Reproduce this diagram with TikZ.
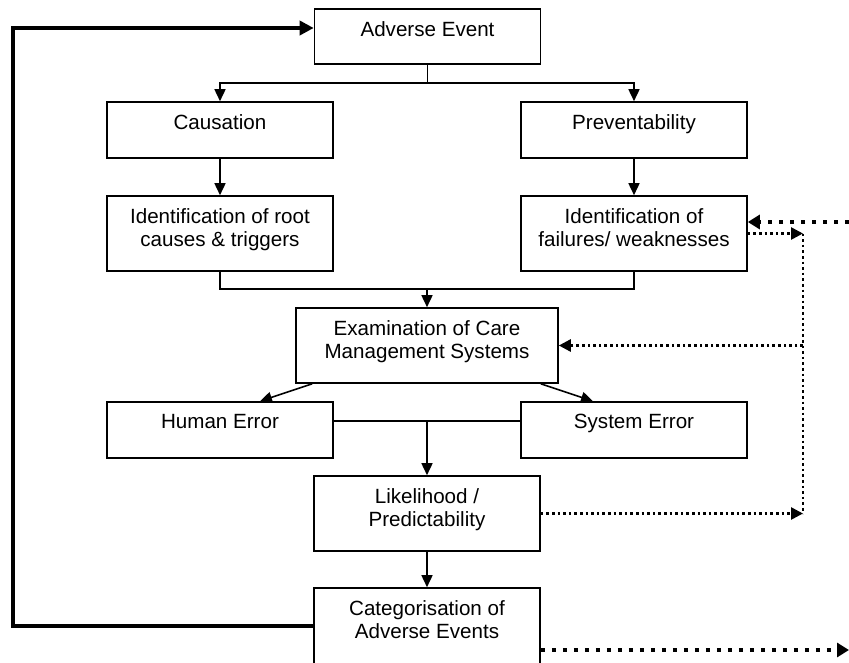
\documentclass[tikz,border=0pt]{standalone}
\usepackage{fontspec}
\setmainfont{Liberation Sans}
\usetikzlibrary{arrows.meta}
\begin{document}
\begin{tikzpicture}[x=1pt,y=-1pt,
  box/.style={draw,line width=1.6pt,inner sep=0pt,minimum width=226pt},
  caption/.style={font=\fontsize{20.6}{23.5}\selectfont,align=center,inner sep=0pt,anchor=north},
  link/.style={line width=1.6pt},
  flow/.style={line width=1.6pt,-{Triangle[length=12pt,width=11pt]}},
  feedback/.style={line width=4.5pt,-{Triangle[length=14pt,width=14pt]}},
  fine/.style={line width=2.6pt,dash pattern=on 2.6pt off 3pt},
  finetip/.style={fine,-{Triangle[length=12pt,width=12pt]}},
  bold/.style={line width=4.5pt,dash pattern=on 4.5pt off 6.5pt,-{Triangle[length=12pt,width=14pt]}},
]
\useasboundingbox (0,0) rectangle (849,662);
\clip (0,0) rectangle (849,662);

% boxes
\node[box,minimum height=55pt] (ae)   at (427.5,36.5) {};
\node[box,minimum height=56pt] (cau)  at (220,130) {};
\node[box,minimum height=56pt] (prev) at (634,130) {};
\node[box,minimum height=75pt] (root) at (220,233.5) {};
\node[box,minimum height=75pt] (fail) at (634,233.5) {};
\node[box,minimum height=75pt,minimum width=262pt] (exam) at (427,345.5) {};
\node[box,minimum height=56pt] (hum)  at (220,430) {};
\node[box,minimum height=56pt] (sys)  at (634,430) {};
\node[box,minimum height=75pt] (lik)  at (427,513.5) {};
\node[box,minimum height=90pt] (cat)  at (427,633) {};

% captions
\node[caption] (ae-t)   at ([yshift=-13pt]ae.north)   {Adverse Event};
\node[caption] (cau-t)  at ([yshift=-13pt]cau.north)  {Causation};
\node[caption] (prev-t) at ([yshift=-13pt]prev.north) {Preventability};
\node[caption] (root-t) at ([yshift=-13pt]root.north) {Identification of root\\causes \& triggers};
\node[caption] (fail-t) at ([yshift=-13pt]fail.north) {Identification of\\failures/ weaknesses};
\node[caption] (exam-t) at ([yshift=-13pt]exam.north) {Examination of Care\\Management Systems};
\node[caption] (hum-t)  at ([yshift=-13pt]hum.north)  {Human Error};
\node[caption] (sys-t)  at ([yshift=-13pt]sys.north)  {System Error};
\node[caption] (lik-t)  at ([yshift=-13pt]lik.north)  {Likelihood /\\Predictability};
\node[caption] (cat-t)  at ([yshift=-13pt]cat.north)  {Categorisation of\\Adverse Events};

% junction points
\coordinate (split) at (427.5,83);
\coordinate (merge) at (427,289);
\coordinate (join)  at (427,421);
\coordinate (fbtop) at (13,28);
\coordinate (vtop)  at (803,233.5);
\coordinate (vbot)  at (803,513.5);
\coordinate (inR)   at (849,222);
\coordinate (outR)  at (849,650);

% main flow
\draw[link] (ae.south) -- (split);
\draw[flow] (split) -| (cau.north);
\draw[flow] (split) -| (prev.north);
\draw[flow] (cau) -- (root);
\draw[flow] (prev) -- (fail);
\draw[link] (root.south) |- (merge) -| (fail.south);
\draw[flow] (merge) -- (exam.north);
\draw[flow] ([xshift=17pt]exam.south west) -- ([xshift=40pt]hum.north);
\draw[flow] ([xshift=-18pt]exam.south east) -- ([xshift=-41pt]sys.north);
\draw[link] ([yshift=9pt]hum.east) -- ([yshift=9pt]sys.west);
\draw[flow] (join) -- (lik.north);
\draw[flow] (lik) -- (cat);

% feedback loop
\draw[feedback] ([yshift=7pt]cat.west) -| (fbtop) -- ([yshift=8.5pt]ae.west);

% dotted links on the right
\draw[bold] (inR) -- ([yshift=11.5pt]fail.east);
\draw[finetip] (fail.east) -- (vtop);
\draw[fine] (vtop) -- (vbot);
\draw[finetip] (lik.east) -- (vbot);
\draw[finetip] (vtop |- exam.east) -- (exam.east);
\draw[bold] ([yshift=-17pt]cat.east) -- (outR);
\end{tikzpicture}
\end{document}
